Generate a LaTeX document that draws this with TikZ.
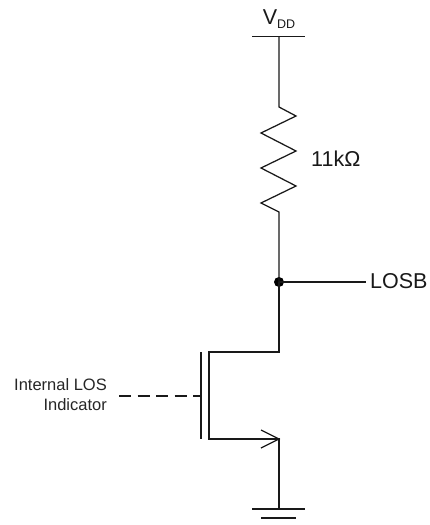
\documentclass[tikz,border=0pt]{standalone}
\usepackage{fontspec}
\setmainfont{Liberation Sans}
\begin{document}
\begin{tikzpicture}[x=1pt,y=-1pt,
  wire/.style={line width=1.25pt,black!90,line join=miter},
  lbl/.style={inner sep=0pt,font=\fontsize{21.5}{24}\selectfont,text=black!90},
  small/.style={inner sep=0pt,font=\fontsize{16.5}{20}\selectfont,text=black!85,align=right,anchor=east}]
\useasboundingbox (0,0) rectangle (430,525);
\coordinate (vddl) at (252,36.5);
\coordinate (vddr) at (305,36.5);
\coordinate (vdd) at (279,36.5);
\coordinate (rtop) at (279,107);
\coordinate (rbot) at (279,212);
\node[circle,fill=black,inner sep=0pt,minimum size=10pt] (junction) at (279,282) {};
\node[lbl,anchor=west] (losb) at (370,281.5) {LOSB};
\coordinate (losbend) at (366,282);
\node[lbl] (vddlabel) at (279,19) {V\raisebox{-4pt}{\fontsize{12.5}{14}\selectfont DD}};
\node[lbl,anchor=west] (rlabel) at (311,158.5) {11k\fontspec{Liberation Sans}Ω};
\node[small] (intlos) at (107,395) {Internal LOS\\Indicator};
\coordinate (gtop) at (201,352);
\coordinate (gbot) at (201,439);
\coordinate (gmid) at (201,396);
\coordinate (dashstart) at (119,396);
\coordinate (ctop) at (209,352);
\coordinate (cbot) at (209,439);
\coordinate (src) at (279,439);
\coordinate (gnd) at (279,509);
\coordinate (gndl) at (252,509);
\coordinate (gndr) at (305,509);
\coordinate (gnd2l) at (261,518);
\coordinate (gnd2r) at (296,518);
\draw[wire] (vddl) -- (vddr);
\draw[wire] (vdd) -- (rtop) -- (296,116) -- (261,133) -- (296,151) -- (261,168) -- (296,186) -- (261,203) -- (rbot) -- (junction.center);
\draw[wire] (junction.center) -- (losbend);
\draw[wire] (junction.center) -- (279,352) -- (ctop) -- (cbot) -- (src) -- (gnd);
\draw[wire] (gtop) -- (gbot);
\draw[wire,line width=2pt,dash pattern=on 12pt off 6.5pt] (dashstart) -- (gmid);
\draw[wire] (261,430) -- (src) -- (261,448);
\draw[wire] (gndl) -- (gndr);
\draw[wire] (gnd2l) -- (gnd2r);
\end{tikzpicture}
\end{document}
